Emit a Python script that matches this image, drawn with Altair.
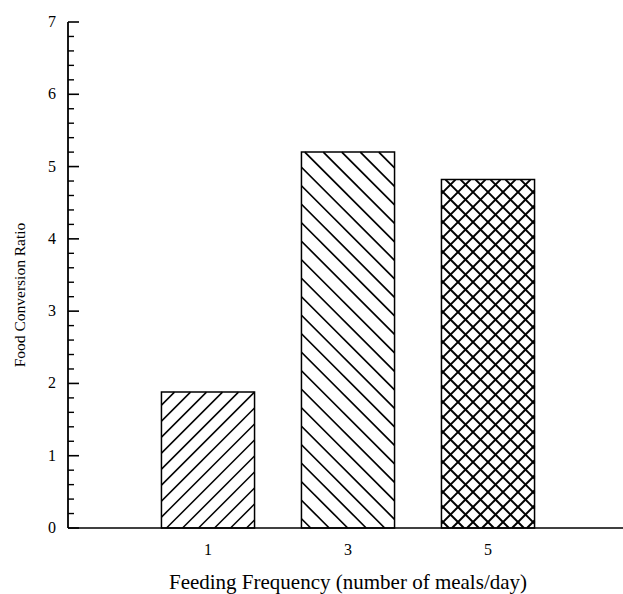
import altair as alt
import numpy as np
import pandas as pd

# Feeding frequency (meals/day) and food conversion ratio
freq = [1, 3, 5]
fcr = [1.88, 5.20, 4.82]

# Axis tick values and titles
x_labels = [1, 3, 5]
y_major = [0, 1, 2, 3, 4, 5, 6, 7]
y_minor = [round(i * 0.2, 1) for i in range(36) if i % 5 != 0]
x_title = "Feeding Frequency (number of meals/day)"
y_title = "Food Conversion Ratio"

# Hatch style for each bar: direction, horizontal spacing (px), line width
hatch_kind = {1: "/", 3: "\\", 5: "x"}
hatch_gap = {1: 16.0, 3: 18.5, 5: 15.0}
hatch_width = {1: 1.5, 3: 1.7, 5: 2.0}

W, H = 555, 506
X_DOMAIN = [-1, -1 + W / 70.0]
Y_DOMAIN = [0, 7]
KX = W / (X_DOMAIN[1] - X_DOMAIN[0])
KY = H / (Y_DOMAIN[1] - Y_DOMAIN[0])
HALF = 0.665
FONT = "Liberation Serif"

bars = pd.DataFrame({
    "freq": freq,
    "left": [f - HALF for f in freq],
    "right": [f + HALF for f in freq],
    "fcr": fcr,
})


def hatch_lines(xc, top, kind, gap, lw):
    """45-degree hatch segments clipped to the bar, in data units."""
    w = 2 * HALF * KX
    h = top * KY
    x0 = xc - HALF
    segs = []
    if kind in ("/", "x"):
        for c in np.arange(-w + gap / 2, h, gap):  # y = x + c
            xa, xb = max(0.0, -c), min(w, h - c)
            if xb > xa:
                segs.append((xa, xa + c, xb, xb + c))
    if kind in ("\\", "x"):
        for c in np.arange(gap / 2, w + h, gap):  # y = -x + c
            xa, xb = max(0.0, c - h), min(w, c)
            if xb > xa:
                segs.append((xa, c - xa, xb, c - xb))
    return [
        {"x": x0 + a / KX, "y": b / KY, "x2": x0 + c / KX, "y2": d / KY,
         "lw": lw}
        for a, b, c, d in segs
    ]


rows = []
for f, v in zip(freq, fcr):
    rows += hatch_lines(f, v, hatch_kind[f], hatch_gap[f], hatch_width[f])
hatch = pd.DataFrame(rows)

xs = alt.Scale(domain=X_DOMAIN, nice=False, zero=False)
ys = alt.Scale(domain=Y_DOMAIN, nice=False)

bar_layer = alt.Chart(bars).mark_rect(
    fill="white", stroke="black", strokeWidth=1.5
).encode(
    x=alt.X("left:Q", scale=xs, axis=None),
    x2="right:Q",
    y=alt.Y("fcr:Q", scale=ys, axis=None),
    y2=alt.datum(0),
)

hatch_layer = alt.Chart(hatch).mark_rule(color="black").encode(
    x=alt.X("x:Q", scale=xs, axis=None),
    x2="x2:Q",
    y=alt.Y("y:Q", scale=ys, axis=None),
    y2="y2:Q",
    strokeWidth=alt.StrokeWidth("lw:Q", scale=None, legend=None),
)

# Axis lines
frame = pd.DataFrame({"k": [0]})
y_line = alt.Chart(frame).mark_rule(color="black", strokeWidth=1.8).encode(
    x=alt.value(0), y=alt.value(0), y2=alt.value(H)
)
x_line = alt.Chart(frame).mark_rule(color="black", strokeWidth=1.5).encode(
    y=alt.value(H), x=alt.value(0), x2=alt.value(W)
)

# Inward tick marks on the value axis
major_ticks = alt.Chart(pd.DataFrame({"v": y_major})).mark_rule(
    color="black", strokeWidth=1.6
).encode(
    y=alt.Y("v:Q", scale=ys, axis=None),
    x=alt.value(0),
    x2=alt.value(11),
)
minor_ticks = alt.Chart(pd.DataFrame({"v": y_minor})).mark_rule(
    color="black", strokeWidth=1.4
).encode(
    y=alt.Y("v:Q", scale=ys, axis=None),
    x=alt.value(0),
    x2=alt.value(6),
)

# Tick labels
y_text = alt.Chart(pd.DataFrame({"v": y_major})).mark_text(
    font=FONT, fontSize=16, color="black", align="right", baseline="middle"
).encode(
    y=alt.Y("v:Q", scale=ys, axis=None),
    x=alt.value(-12),
    text=alt.Text("v:Q", format="d"),
)
x_text = alt.Chart(pd.DataFrame({"v": x_labels})).mark_text(
    font=FONT, fontSize=16, color="black", align="center", baseline="middle"
).encode(
    x=alt.X("v:Q", scale=xs, axis=None),
    y=alt.value(H + 22),
    text=alt.Text("v:Q", format="d"),
)

# Axis titles
x_title_mark = alt.Chart(pd.DataFrame({"t": [x_title]})).mark_text(
    font=FONT, fontSize=21, color="black", align="center", baseline="middle"
).encode(x=alt.value(280), y=alt.value(H + 55), text="t:N")
y_title_mark = alt.Chart(pd.DataFrame({"t": [y_title]})).mark_text(
    font=FONT, fontSize=15.5, color="black", align="center",
    baseline="middle", angle=270
).encode(x=alt.value(-48), y=alt.value(273), text="t:N")

chart = alt.layer(
    bar_layer, hatch_layer, x_line, y_line, minor_ticks, major_ticks,
    y_text, x_text, x_title_mark, y_title_mark
).properties(
    width=W, height=H,
    autosize=alt.AutoSizeParams(type="none"),
    padding={"left": 68, "top": 22, "right": 0, "bottom": 66},
    background="white",
).configure_view(strokeWidth=0)

chart.save("out.html", embed_options={"renderer": "svg", "actions": False})
